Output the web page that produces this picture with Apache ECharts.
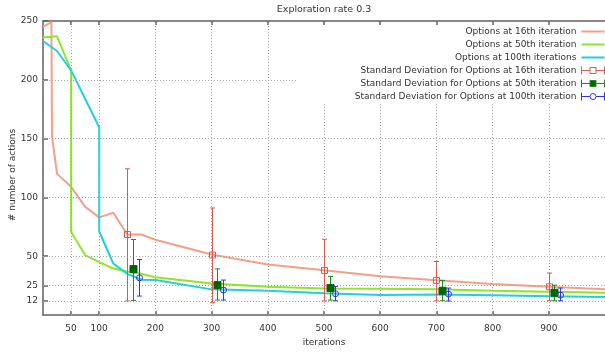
<!DOCTYPE html>
<html>
<head>
<meta charset="utf-8">
<script src="https://cdn.jsdelivr.net/npm/echarts@6/dist/echarts.min.js"></script>
<style>
html,body{margin:0;padding:0;background:#fff;}
#chart{width:605px;height:352px;}
</style>
</head>
<body>
<div id="chart"></div>
<script>
// ---- data ----
const seriesNames = [
  'Options at 16th iteration',
  'Options at 50th iteration',
  'Options at 100th iterations',
  'Standard Deviation for Options at 16th iteration',
  'Standard Deviation for Options at 50th iteration',
  'Standard Deviation for Options at 100th iteration'
];
const iter16 = [0, 15, 16, 25, 50, 75, 100, 125, 150, 175, 200, 300, 400, 500, 600, 700, 800, 900, 1000];
const opt16  = [245, 249, 152, 120, 109, 92, 83, 87, 68.5, 68.5, 64, 51.4, 43, 38, 33, 29.6, 26.3, 24, 21.8];
const iter50 = [0, 25, 50, 50, 75, 100, 125, 150, 175, 200, 300, 400, 500, 600, 700, 800, 900, 1000];
const opt50  = [236, 237, 208, 70.5, 51, 45, 39.5, 37, 35, 32, 26.8, 24, 22.6, 22.3, 22, 20.6, 19.8, 19];
const iter100 = [0, 25, 50, 100, 100, 125, 150, 175, 200, 300, 400, 500, 600, 700, 800, 900, 1000];
const opt100  = [233, 224.5, 208, 159.6, 71, 43.8, 35, 30, 29.7, 21.8, 20.6, 18.4, 17, 17.5, 16.7, 16, 15.4];

const sd16X    = [150, 300, 500, 700, 900];
const sd16Mean = [68.4, 51, 37.9, 29.4, 24];
const sd16Low  = [12, 10.5, 12, 12, 12.4];
const sd16High = [124.3, 91, 64.4, 45.5, 35.6];

const sd50X    = [160, 310, 510, 710, 910];
const sd50Mean = [39, 25.4, 22.9, 20.6, 18.9];
const sd50Low  = [12.4, 12.7, 12.7, 12.1, 12.1];
const sd50High = [64.2, 39.2, 32.8, 29.4, 25.4];

const sd100X    = [170, 320, 520, 720, 920];
const sd100Mean = [31.6, 21.2, 18.1, 17.8, 16.9];
const sd100Low  = [16.1, 12.7, 12.1, 11.9, 12.1];
const sd100High = [47.2, 29.7, 24.3, 22.9, 22.9];

const xTicks = [50, 100, 200, 300, 400, 500, 600, 700, 800, 900];
const yTicks = [12, 25, 50, 100, 150, 200, 250];
const yGridValues = [12, 25, 50, 100, 150, 200];

const titleText = 'Exploration rate 0.3';
const xName = 'iterations';
const yName = '# number of actions';

// ---- styling ----
const FONT = 'DejaVu Sans';
const c16 = '#f3a088', c50 = '#8ee62a', c100 = '#22cfdc';
const e16 = '#d65a56', e50 = '#1c8c1c', e100 = '#3434e0';
const axisColor = '#606060';
// region hidden behind the key (in data units): grid lines stop at its edge
const keyLeftX = 450, keyBottomY = 180;

const zip = (xs, ys) => xs.map((x, i) => [x, ys[i]]);
const errData = (xs, lo, hi, mid) => xs.map((x, i) => [x, lo[i], hi[i], mid[i]]);

function makeErr(kind, color, markColor) {
  return function (params, api) {
    const x = api.value(0);
    const pLo = api.coord([x, api.value(1)]);
    const pHi = api.coord([x, api.value(2)]);
    const pMid = api.coord([x, api.value(3)]);
    const cx = Math.round(pLo[0]) + 0.5;
    const cw = 2.5;
    const ls = { stroke: color, lineWidth: 1 };
    const children = [
      { type: 'line', shape: { x1: cx, y1: pLo[1], x2: cx, y2: pHi[1] }, style: ls },
      { type: 'line', shape: { x1: cx - cw, y1: pLo[1], x2: cx + cw, y2: pLo[1] }, style: ls },
      { type: 'line', shape: { x1: cx - cw, y1: pHi[1], x2: cx + cw, y2: pHi[1] }, style: ls }
    ];
    if (kind === 'openSquare') {
      children.push({ type: 'rect', shape: { x: cx - 3, y: pMid[1] - 3, width: 6, height: 6 },
        style: { fill: 'none', stroke: color, lineWidth: 1 } });
    } else if (kind === 'fillSquare') {
      children.push({ type: 'rect', shape: { x: cx - 3.5, y: pMid[1] - 3.5, width: 7, height: 7 },
        style: { fill: markColor, stroke: markColor, lineWidth: 1 } });
    } else {
      children.push({ type: 'circle', shape: { cx: cx, cy: pMid[1], r: 3 },
        style: { fill: 'none', stroke: color, lineWidth: 1 } });
    }
    return { type: 'group', children: children };
  };
}

const chart = echarts.init(document.getElementById('chart'), null, { renderer: 'canvas', width: 605, height: 352 });

const lineSeries = (name, xs, ys, color) => ({
  type: 'line', name: name, data: zip(xs, ys), symbol: 'none', showSymbol: false,
  lineStyle: { color: color, width: 2 }, itemStyle: { color: color }, z: 3,
  xAxisIndex: 0, yAxisIndex: 0, animation: false
});

const lineIcon = 'path://M0,3L23,3L23,5L0,5Z';
const errIconSquare = 'path://M0,0L0,8M0,4L8.5,4M8.5,1L14.5,1L14.5,7L8.5,7ZM14.5,4L23,4M23,0L23,8';
const errIconCircle = 'path://M0,0L0,8M0,4L8.5,4M8.5,4A3,3 0 1,0 14.5,4A3,3 0 1,0 8.5,4M14.5,4L23,4M23,0L23,8';

const gridLines = []
  .concat(xTicks.map(v => [{ coord: [v, 0] }, { coord: [v, v >= keyLeftX ? keyBottomY : 250] }]))
  .concat(yGridValues.map(v => [{ coord: [0, v] }, { coord: [v >= keyBottomY ? keyLeftX : 1000, v] }]));

const axisLineStyle = { color: axisColor, width: 1.5 };

const option = {
  animation: false,
  backgroundColor: '#fff',
  grid: { left: 43, top: 19, width: 577, height: 296, containLabel: false },
  legend: {
    orient: 'vertical', align: 'right', right: 0, top: 25,
    padding: 0,
    itemWidth: 23, itemHeight: 8, itemGap: 0,
    textStyle: { fontFamily: FONT, fontSize: 9, color: '#333', lineHeight: 13 },
    data: [
      { name: seriesNames[0], icon: lineIcon, itemStyle: { color: c16 } },
      { name: seriesNames[1], icon: lineIcon, itemStyle: { color: c50 } },
      { name: seriesNames[2], icon: lineIcon, itemStyle: { color: c100 } },
      { name: seriesNames[3], icon: errIconSquare,
        itemStyle: { color: 'transparent', borderColor: e16, borderWidth: 1 } },
      { name: seriesNames[4], icon: errIconSquare,
        itemStyle: { color: '#006400', borderColor: e50, borderWidth: 1 } },
      { name: seriesNames[5], icon: errIconCircle,
        itemStyle: { color: 'transparent', borderColor: e100, borderWidth: 1 } }
    ]
  },
  xAxis: [
    {
      type: 'value', min: 0, max: 1000, position: 'bottom',
      name: xName, nameLocation: 'middle', nameGap: 21,
      nameTextStyle: { fontFamily: FONT, fontSize: 9, color: '#333' },
      axisLine: { show: true, onZero: false, lineStyle: axisLineStyle },
      axisTick: { show: true, inside: true, length: 4, customValues: xTicks, lineStyle: axisLineStyle },
      axisLabel: { show: true, customValues: xTicks, margin: 9, fontFamily: FONT, fontSize: 9, color: '#333' },
      splitLine: { show: false }
    },
    {
      type: 'value', min: 0, max: 1000, position: 'top',
      name: titleText, nameLocation: 'middle', nameGap: 6,
      nameTextStyle: { fontFamily: FONT, fontSize: 9.5, color: '#333' },
      axisLine: { show: true, onZero: false, lineStyle: axisLineStyle },
      axisTick: { show: true, inside: true, length: 4, customValues: xTicks, lineStyle: axisLineStyle },
      axisLabel: { show: false },
      splitLine: { show: false }
    }
  ],
  yAxis: {
    type: 'value', min: 0, max: 250,
    axisLine: { show: true, onZero: false, lineStyle: axisLineStyle },
    axisTick: { show: true, inside: true, length: 5, customValues: yTicks, lineStyle: axisLineStyle },
    axisLabel: { show: true, customValues: yTicks, margin: 5, fontFamily: FONT, fontSize: 9, color: '#333' },
    splitLine: { show: false }
  },
  graphic: [{
    type: 'text', x: 13, y: 175, rotation: Math.PI / 2,
    style: { text: yName, fontFamily: FONT, fontSize: 9, fill: '#333', align: 'center', verticalAlign: 'middle' }
  }],
  series: [
    {
      type: 'line', name: '__grid', data: [], z: 1, silent: true,
      markLine: {
        silent: true, symbol: ['none', 'none'], animation: false,
        label: { show: false },
        lineStyle: { color: '#a8a8a8', width: 1, type: [1, 2] },
        emphasis: { disabled: true },
        data: gridLines
      }
    },
    lineSeries(seriesNames[0], iter16, opt16, c16),
    lineSeries(seriesNames[1], iter50, opt50, c50),
    lineSeries(seriesNames[2], iter100, opt100, c100),
    { type: 'custom', name: seriesNames[3], data: errData(sd16X, sd16Low, sd16High, sd16Mean),
      encode: { x: 0, y: [1, 2, 3] }, renderItem: makeErr('openSquare', e16), itemStyle: { color: e16 }, z: 5 },
    { type: 'custom', name: seriesNames[4], data: errData(sd50X, sd50Low, sd50High, sd50Mean),
      encode: { x: 0, y: [1, 2, 3] }, renderItem: makeErr('fillSquare', e50, '#006400'), itemStyle: { color: e50 }, z: 5 },
    { type: 'custom', name: seriesNames[5], data: errData(sd100X, sd100Low, sd100High, sd100Mean),
      encode: { x: 0, y: [1, 2, 3] }, renderItem: makeErr('circle', e100), itemStyle: { color: e100 }, z: 5 }
  ]
};
chart.setOption(option);
</script>
</body>
</html>
